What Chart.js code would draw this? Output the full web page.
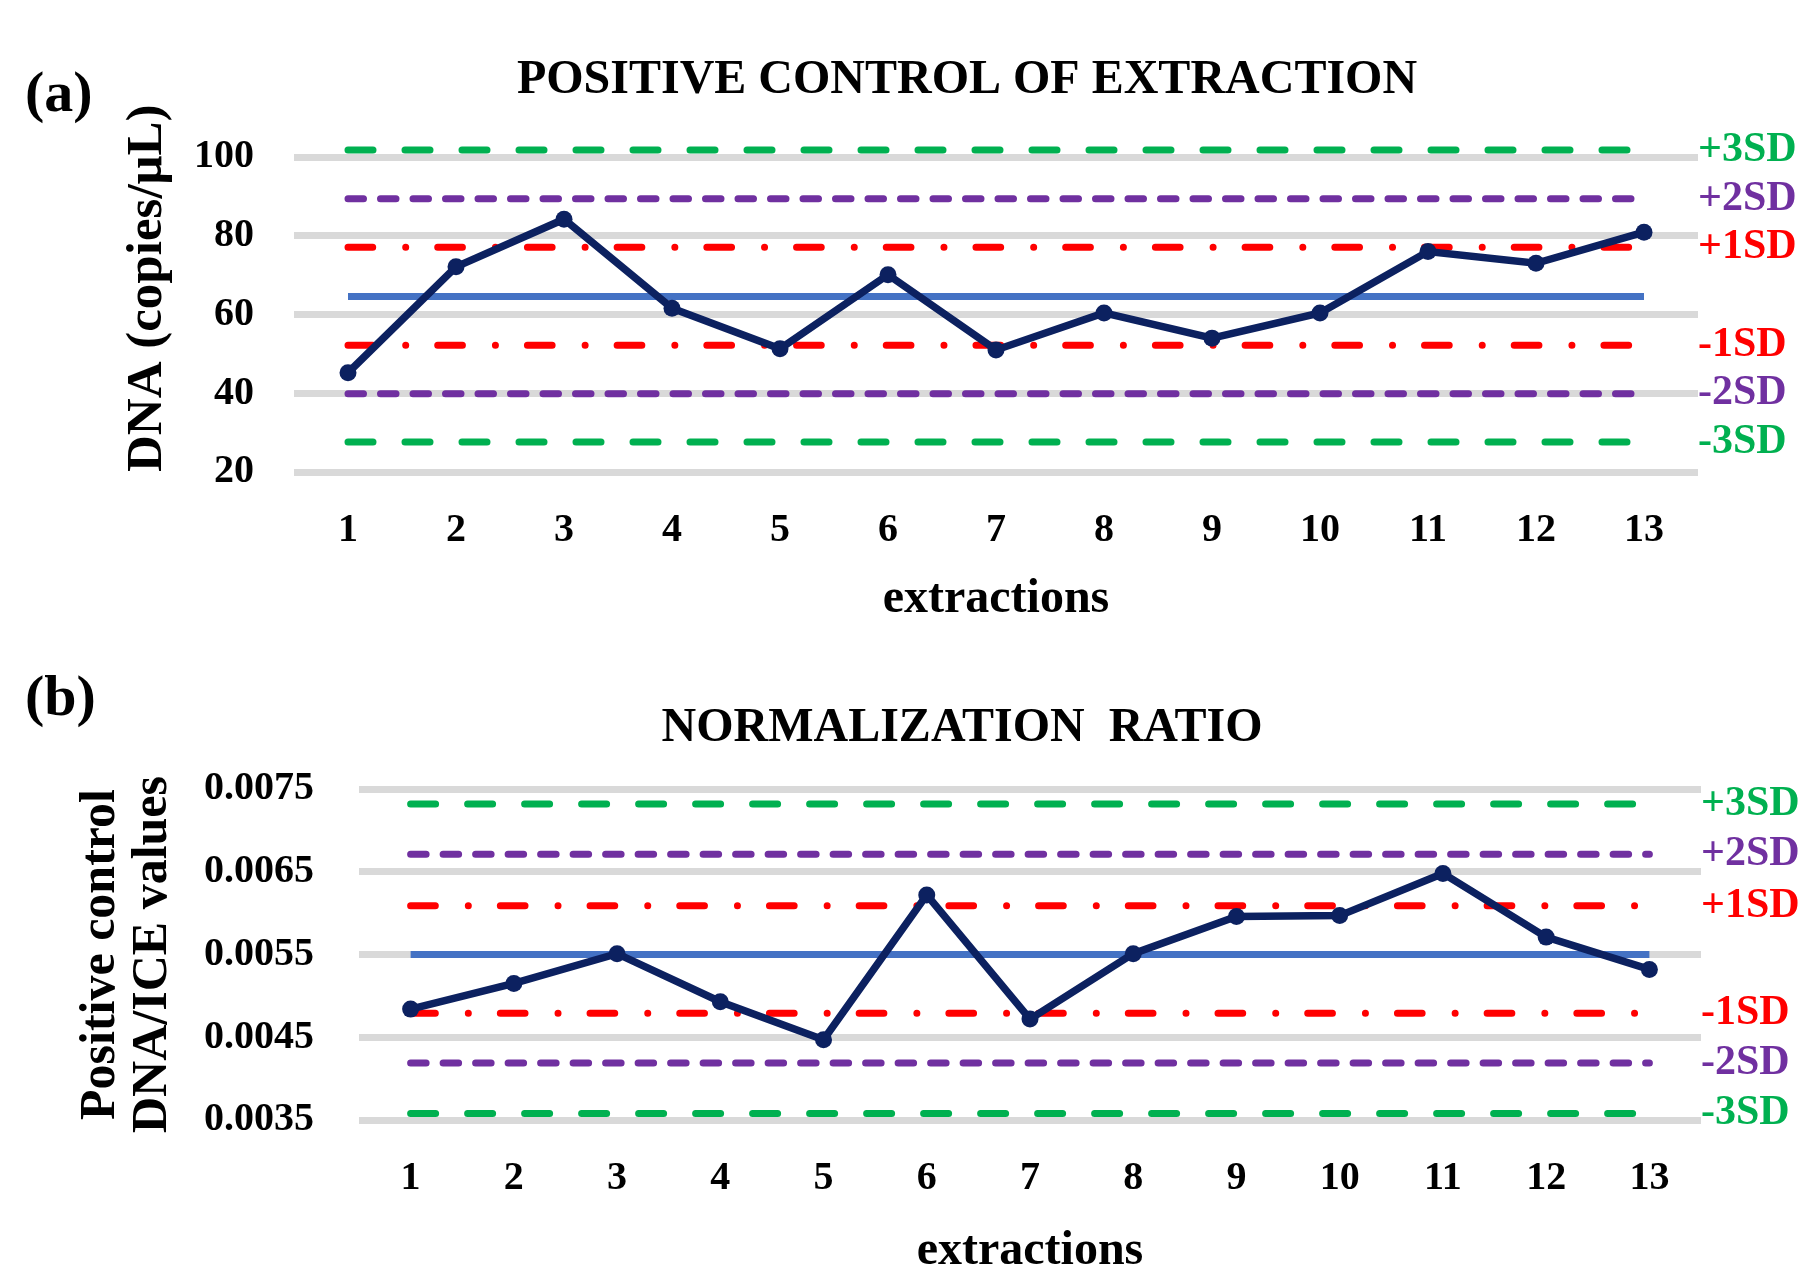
<!DOCTYPE html>
<html><head><meta charset="utf-8">
<script src="https://cdn.jsdelivr.net/npm/chart.js@4/dist/chart.umd.min.js"></script>
<style>
html,body{margin:0;padding:0;background:#fff;width:1809px;height:1270px;overflow:hidden;position:relative}
canvas{position:absolute;left:0}
#ca{top:0}
#cb{top:632px}
.lbl{position:absolute;font-family:"Liberation Serif",serif;font-weight:bold;font-size:58px;line-height:58px;color:#000}
</style></head><body>
<div class="lbl" style="left:25px;top:63px">(a)</div>
<div class="lbl" style="left:25px;top:667px">(b)</div>
<canvas id="ca" width="1834" height="632"></canvas>
<canvas id="cb" width="1864" height="670"></canvas>
<script>
// ---------- data ----------
const extractions = ['1','2','3','4','5','6','7','8','9','10','11','12','13'];

// (a) DNA copies/µL
const dnaValues = [45.2, 72.1, 84.2, 61.6, 51.3, 70.1, 51.0, 60.4, 54.0, 60.4, 76.0, 73.0, 80.9];
const dnaMean = 64.6;
const dnaSD = [101.8, 89.4, 77.1, 52.2, 39.9, 27.6]; // +3,+2,+1,-1,-2,-3
const dnaTicks = [20, 40, 60, 80, 100];

// (b) normalization ratio
const ratioValues = [0.00484, 0.00515, 0.00551, 0.00493, 0.00447, 0.00622, 0.00472, 0.00551, 0.00596, 0.00597, 0.00648, 0.00571, 0.00532];
const ratioMean = 0.0055;
const ratioSD = [0.00732, 0.00671, 0.00609, 0.00479, 0.00419, 0.00358];
const ratioTicks = [0.0035, 0.0045, 0.0055, 0.0065, 0.0075];

const sdLabels = ['+3SD', '+2SD', '+1SD', '-1SD', '-2SD', '-3SD'];

// ---------- styles ----------
const FONT = '"Liberation Serif", serif';
const NAVY = '#0c2160';
const GREEN = '#00b050', PURPLE = '#7030a0', RED = '#ff0000', BLUE = '#4472c4', GRID = '#d9d9d9';
const sdColors = [GREEN, PURPLE, RED, RED, PURPLE, GREEN];
const dashGreen = [25, 32], dashPurple = [15.5, 17], dashRed = [24.7, 33, 0.01, 32];
const sdDash = [dashGreen, dashPurple, dashRed, dashRed, dashPurple, dashGreen];

function constLine(v) { return extractions.map(() => v); }

function buildDatasets(values, mean, sd) {
  const ds = [{
    data: values, borderColor: NAVY, backgroundColor: NAVY, borderWidth: 7.5,
    pointRadius: 8.5, pointBackgroundColor: NAVY, pointBorderWidth: 0, tension: 0, order: 0, clip: false
  }, {
    data: constLine(mean), borderColor: BLUE, borderWidth: 7, pointRadius: 0, order: 1, clip: false
  }];
  sd.forEach((v, i) => ds.push({
    data: constLine(v), borderColor: sdColors[i], borderWidth: 7, borderDash: sdDash[i],
    borderCapStyle: 'round', pointRadius: 0, order: 2, clip: false
  }));
  return ds;
}

function makeChart(id, p) {
  return new Chart(document.getElementById(id), {
    type: 'line',
    data: { labels: extractions, datasets: buildDatasets(p.values, p.mean, p.sd) },
    options: {
      responsive: false, animation: false, devicePixelRatio: 1,
      layout: { padding: { left: p.padLeft, right: 0, top: 0, bottom: 0 } },
      plugins: {
        legend: { display: false }, tooltip: { enabled: false },
        title: { display: true, text: p.title, color: '#000',
          font: { family: FONT, size: 48, weight: 'bold', lineHeight: 1.2 },
          padding: { top: p.titleTop, bottom: p.titleBottom } }
      },
      scales: {
        x: {
          type: 'category', offset: true,
          grid: { display: false, drawTicks: false }, border: { display: false },
          ticks: { color: '#000', font: { family: FONT, size: 40, weight: 'bold' }, padding: 35, autoSkip: false, maxRotation: 0 },
          title: { display: true, text: 'extractions', color: '#000',
            font: { family: FONT, size: 48, weight: 'bold', lineHeight: 1.2 }, padding: { top: 0, bottom: p.xTitleBottom } },
          afterFit: s => { s.height = p.xHeight; }
        },
        y: {
          min: p.ticks[0], max: p.ticks[p.ticks.length - 1],
          afterBuildTicks: s => { s.ticks = p.ticks.map(v => ({ value: v })); },
          grid: { color: GRID, lineWidth: 7, drawTicks: false }, border: { display: false },
          ticks: { color: '#000', font: { family: FONT, size: 40, weight: 'bold' }, padding: p.yTickPad, autoSkip: false,
            callback: v => p.fmt(v) },
          title: { display: true, text: p.yTitle, align: p.yAlign, color: '#000',
            font: { family: FONT, size: p.yTitleSize, weight: 'bold', lineHeight: p.yTitleLH }, padding: { top: p.yTitlePad, bottom: 0 } },
          afterFit: s => { s.width = p.yWidth; }
        },
        y2: {
          position: 'right',
          min: p.ticks[0], max: p.ticks[p.ticks.length - 1],
          afterBuildTicks: s => { s.ticks = p.sd.map(v => ({ value: v })); },
          grid: { display: false, drawTicks: false }, border: { display: false },
          ticks: { autoSkip: false, padding: 0, font: { family: FONT, size: 42, weight: 'bold' },
            callback: (v, i) => sdLabels[i], color: c => sdColors[c.index] },
          afterFit: s => { s.width = p.y2Width; }
        }
      }
    }
  });
}

makeChart('ca', {
  values: dnaValues, mean: dnaMean, sd: dnaSD, ticks: dnaTicks,
  title: 'POSITIVE CONTROL OF EXTRACTION', titleTop: 52.2, titleBottom: 47.2,
  padLeft: 100, yWidth: 194, y2Width: 136, xHeight: 160, xTitleBottom: 3.2,
  yTickPad: 40, yTitle: 'DNA (copies/μL)', yAlign: 'start', yTitleSize: 51, yTitleLH: 1.2, yTitlePad: 17.4,
  fmt: v => String(v)
});

makeChart('cb', {
  values: ratioValues, mean: ratioMean, sd: ratioSD, ticks: ratioTicks,
  title: 'NORMALIZATION  RATIO', titleTop: 68.2, titleBottom: 31.2,
  padLeft: 60, yWidth: 299, y2Width: 163, xHeight: 182, xTitleBottom: 21.2,
  yTickPad: 45, yTitle: ['Positive control', 'DNA/ICE values'], yAlign: 'center', yTitleSize: 50, yTitleLH: 52 / 50, yTitlePad: 15.5,
  fmt: v => v.toFixed(4)
});
</script>
</body></html>
